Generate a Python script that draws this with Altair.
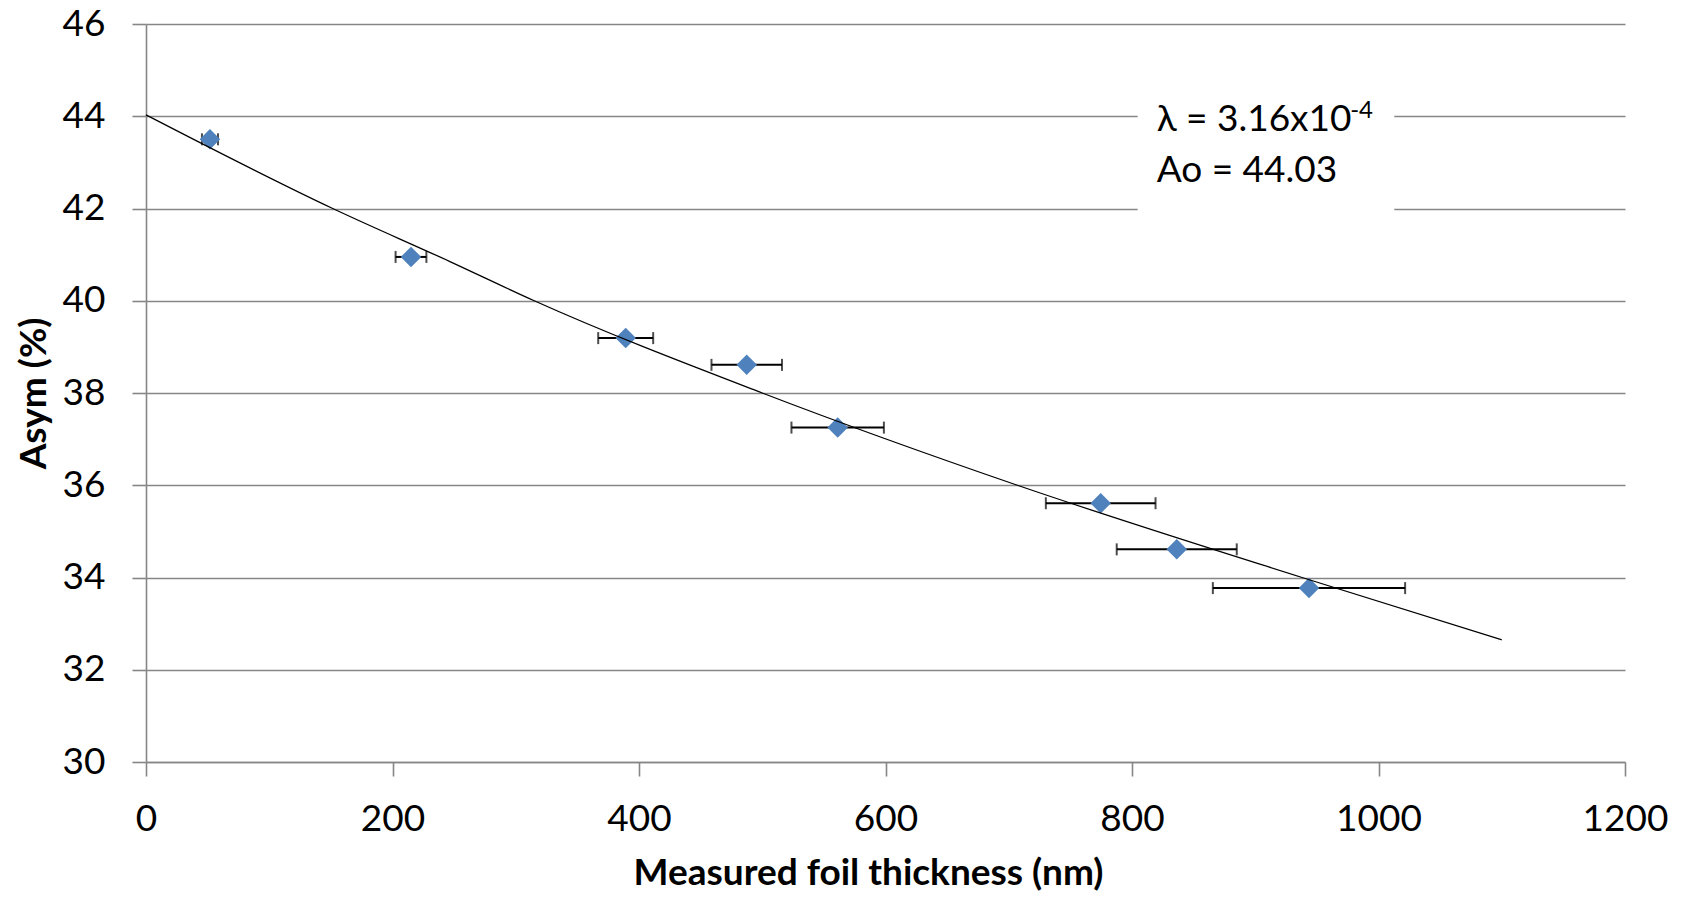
import altair as alt
import pandas as pd

# Measured points
thickness = [51.9, 215.0, 389.2, 487.4, 561.2, 774.6, 836.3, 943.6]
asym = [43.50, 40.95, 39.19, 38.61, 37.25, 35.61, 34.61, 33.77]
thickness_err = [6.5, 12.5, 22.3, 28.6, 37.5, 44.5, 48.7, 78.0]

# Trend line
fit_x = [0, 151.5, 246.6, 315, 500, 707, 938, 1100]
fit_y = [44.03, 42.0, 40.85, 40.0, 38.0, 36.0, 34.0, 32.65]

x_ticks = [0, 200, 400, 600, 800, 1000, 1200]
y_ticks = [30, 32, 34, 36, 38, 40, 42, 44, 46]

ann_lines = ["λ = 3.16x10", "Ao = 44.03"]
ann_x = [820, 820]
ann_y = [43.69, 42.58]
sup_text = ["-4"]
sup_x = [977]
sup_y = [43.96]
box_x = [804.6]
box_x2 = [1012.8]
box_y = [41.86]
box_y2 = [44.68]

FONT = "Lato"
GRID = "#868686"

pts = pd.DataFrame({
    "x": thickness,
    "y": asym,
    "lo": [t - e for t, e in zip(thickness, thickness_err)],
    "hi": [t + e for t, e in zip(thickness, thickness_err)],
})
fit = pd.DataFrame({"x": fit_x, "y": fit_y})
ann = pd.DataFrame({"x": ann_x, "y": ann_y, "label": ann_lines})
sup = pd.DataFrame({"x": sup_x, "y": sup_y, "label": sup_text})
box = pd.DataFrame({"x": box_x, "x2": box_x2, "y": box_y, "y2": box_y2})

x_axis = alt.Axis(
    values=x_ticks, grid=False, title="Measured foil thickness (nm)", format="d",
    labelPadding=25, labelFlush=False, titleX=722, titleY=122, titleAlign="center",
    titleBaseline="alphabetic",
)
y_axis = alt.Axis(
    values=y_ticks, grid=True, title="Asym (%)", format="d",
    labelPadding=27, labelFlush=False, titleX=-112, titleY=369, titleAngle=-90,
    titleAlign="center", titleBaseline="middle",
)
x_scale = alt.Scale(domain=[0, 1200], nice=False, zero=False)
y_scale = alt.Scale(domain=[30, 46], nice=False, zero=False)

X = alt.X("x:Q", scale=x_scale, axis=x_axis)
Y = alt.Y("y:Q", scale=y_scale, axis=y_axis)

rect = alt.Chart(box).mark_rect(fill="white").encode(
    x=X, x2="x2:Q", y=Y, y2="y2:Q"
)

bars = alt.Chart(pts).mark_rule(color="black", strokeWidth=2).encode(
    x=alt.X("lo:Q", scale=x_scale, axis=x_axis), x2="hi:Q", y=Y
)
cap_lo = alt.Chart(pts).mark_tick(color="black", orient="vertical", size=12, thickness=2).encode(
    x=alt.X("lo:Q", scale=x_scale, axis=x_axis), y=Y
)
cap_hi = alt.Chart(pts).mark_tick(color="black", orient="vertical", size=12, thickness=2).encode(
    x=alt.X("hi:Q", scale=x_scale, axis=x_axis), y=Y
)
points = alt.Chart(pts).mark_point(
    shape="diamond", filled=True, size=420, color="#4F81BD", opacity=1
).encode(x=X, y=Y)

line = alt.Chart(fit).mark_line(color="black", strokeWidth=1.3, interpolate="monotone").encode(
    x=X, y=Y
)

text = alt.Chart(ann).mark_text(
    align="left", baseline="alphabetic", font=FONT, fontSize=37, color="black"
).encode(x=X, y=Y, text="label:N")
suptext = alt.Chart(sup).mark_text(
    align="left", baseline="alphabetic", font=FONT, fontSize=24, color="black"
).encode(x=X, y=Y, text="label:N")

chart = alt.layer(rect, bars, cap_lo, cap_hi, points, line, text, suptext).properties(
    width=1479, height=738,
    autosize=alt.AutoSizeParams(type="none"),
    padding={"left": 138, "top": 16, "right": 52, "bottom": 129},
    background="white",
).configure_view(stroke=None).configure_axis(
    labelFont=FONT, labelFontSize=37, labelColor="black",
    titleFont=FONT, titleFontSize=37, titleFontWeight="bold", titleColor="black",
    gridColor=GRID, gridWidth=1.6, domainColor=GRID, domainWidth=1.6,
    tickColor=GRID, tickWidth=1.6, tickSize=14, gridOpacity=1,
)

chart.save("out.html", embed_options={"renderer": "svg", "actions": False})
